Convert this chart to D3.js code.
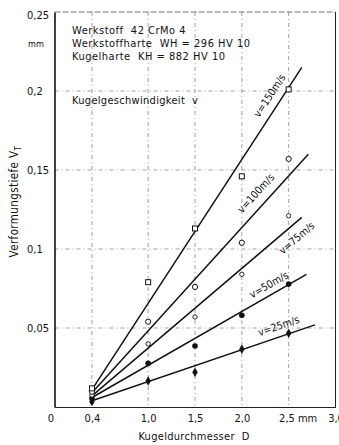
<!DOCTYPE html>
<html><head><meta charset="utf-8">
<script src="https://cdn.jsdelivr.net/npm/d3@7"></script>
<style>
body{margin:0;background:#fff;}
text{font-family:"DejaVu Sans Condensed","DejaVu Sans",sans-serif;fill:#111;white-space:pre;}
</style></head>
<body><svg id="c" width="339" height="445"></svg>
<script>
// ---- data ----
const diameters = [0.4, 1.0, 1.5, 2.0, 2.5];
const speedLabels = ["v=25m/s", "v=50m/s", "v=75m/s", "v=100m/s", "v=150m/s"];
const v25  = [0.0034, 0.0165, 0.022, 0.0365, 0.0466];
const v50  = [0.0055, 0.0277, 0.0386, 0.058, 0.0778];
const v75  = [0.0076, 0.040, 0.057, 0.084, 0.121];
const v100 = [0.0097, 0.054, 0.076, 0.104, 0.157];
const v150 = [0.0118, 0.079, 0.113, 0.146, 0.201];
const fitStart = [[0.4, 0.004], [0.4, 0.006], [0.4, 0.007], [0.4, 0.009], [0.4, 0.011]];
const fitEnd   = [[2.78, 0.052], [2.69, 0.084], [2.64, 0.120], [2.71, 0.160], [2.64, 0.215]];
const labelAt  = [2.43, 2.34, 2.50, 2.25, 2.40];
const markerKind = ["diamond", "filled", "smallOpen", "open", "square"];
const xTicks = [0, 0.4, 1.0, 1.5, 2.0, 2.5, 3.0];
const xTickLabels = ["0", "0,4", "1,0", "1,5", "2,0", "2,5 mm", "3,0"];
const yTicks = [0.05, 0.1, 0.15, 0.2, 0.25];
const yTickLabels = ["0,05", "0,1", "0,15", "0,2", "0,25"];
const gridX = [0.4, 1.0, 1.5, 2.0, 2.5];
const gridY = [0.05, 0.1, 0.15, 0.2];
const infoLines = ["Werkstoff  42 CrMo 4", "Werkstoffharte  WH = 296 HV 10", "Kugelharte  KH = 882 HV 10"];
const speedTitle = "Kugelgeschwindigkeit  v";
const yTitle = "Verformungstiefe V";
const xTitle = "Kugeldurchmesser  D";

// ---- layout ----
const series = [v25, v50, v75, v100, v150];
const svg = d3.select("#c");
const L = 54.5, R = 335.5, T = 12, B = 407;
const FF = "DejaVu Sans Condensed, DejaVu Sans, sans-serif";
const x = d3.scaleLinear().domain([0, 3]).range([L, R]);
const y = d3.scaleLinear().domain([0, 0.25]).range([B, T]);

// grid
const g = svg.append("g");
g.selectAll(".gx").data(gridX).join("line")
  .attr("x1", d => x(d)).attr("x2", d => x(d)).attr("y1", T).attr("y2", B)
  .attr("stroke", "#888").attr("stroke-width", 0.8).attr("stroke-dasharray", "4,3,1,3");
g.selectAll(".gy").data(gridY).join("line")
  .attr("y1", d => y(d)).attr("y2", d => y(d)).attr("x1", L).attr("x2", R)
  .attr("stroke", "#888").attr("stroke-width", 0.8).attr("stroke-dasharray", "4,3,1,3");

// frame
svg.append("line").attr("x1", L).attr("x2", R).attr("y1", T).attr("y2", T)
  .attr("stroke", "#555").attr("stroke-width", 0.8).attr("stroke-dasharray", "6,2");
svg.append("line").attr("x1", R).attr("x2", R).attr("y1", T).attr("y2", B)
  .attr("stroke", "#222").attr("stroke-width", 1);

// axes
const xAxis = d3.axisBottom(x).tickValues(xTicks).tickSize(0).tickPadding(7)
  .tickFormat((d, i) => xTickLabels[i]);
const ax = svg.append("g").attr("transform", `translate(0,${B})`).call(xAxis);
ax.select(".domain").attr("stroke", "#222").attr("stroke-width", 1.2);
ax.selectAll("text").attr("font-size", 11).attr("fill", "#111").attr("font-family", FF);
ax.selectAll(".tick").filter(d => d === 0).select("text").attr("dx", -4);
ax.selectAll(".tick").filter(d => d === 2.5).select("text").attr("dx", 9);

const yAxis = d3.axisLeft(y).tickValues(yTicks).tickSize(0).tickPadding(0)
  .tickFormat((d, i) => yTickLabels[i]);
const ay = svg.append("g").attr("transform", `translate(${L},0)`).call(yAxis);
ay.select(".domain").attr("stroke", "#111").attr("stroke-width", 1.6);
ay.selectAll("text").attr("font-size", 11).attr("fill", "#111").attr("text-anchor", "start")
  .attr("x", 27 - L).attr("font-family", FF);
ay.selectAll(".tick").filter(d => d === 0.25).select("text").attr("dy", "0.55em");
svg.append("text").attr("x", 28).attr("y", 47).attr("font-size", 9).text("mm");

// titles
const yt = svg.append("text").attr("transform", `translate(18,${y(0.13)}) rotate(-90)`)
  .attr("text-anchor", "middle").attr("font-size", 11.5).attr("letter-spacing", 0.4);
yt.append("tspan").text(yTitle);
yt.append("tspan").attr("font-size", 8).attr("dy", 3).text("T");
svg.append("text").attr("x", 194).attr("y", 440).attr("text-anchor", "middle")
  .attr("font-size", 11).attr("letter-spacing", 0.3).text(xTitle);

// info text
svg.selectAll(".info").data(infoLines).join("text")
  .attr("x", 72).attr("y", (d, i) => 34 + i * 13).attr("font-size", 11)
  .attr("letter-spacing", 0.5).text(d => d);
svg.append("text").attr("x", 72).attr("y", 104).attr("font-size", 11)
  .attr("letter-spacing", 0.3).text(speedTitle);

// fit lines
series.forEach((s, i) => {
  svg.append("line")
    .attr("x1", x(fitStart[i][0])).attr("y1", y(fitStart[i][1]))
    .attr("x2", x(fitEnd[i][0])).attr("y2", y(fitEnd[i][1]))
    .attr("stroke", "#111").attr("stroke-width", 1.5);
});

// markers
series.forEach((s, i) => {
  const k = markerKind[i];
  const pts = diameters.map((d, j) => [d, s[j]]);
  const m = svg.append("g");
  pts.forEach(p => {
    const cx = x(p[0]), cy = y(p[1]);
    if (k === "square") {
      m.append("rect").attr("x", cx - 2.5).attr("y", cy - 2.5).attr("width", 5).attr("height", 5)
        .attr("fill", "#fff").attr("stroke", "#111").attr("stroke-width", 1);
    } else if (k === "open") {
      m.append("circle").attr("cx", cx).attr("cy", cy).attr("r", 2.6)
        .attr("fill", "#fff").attr("stroke", "#111").attr("stroke-width", 1);
    } else if (k === "smallOpen") {
      m.append("circle").attr("cx", cx).attr("cy", cy).attr("r", 2.2)
        .attr("fill", "#fff").attr("stroke", "#111").attr("stroke-width", 0.9);
    } else if (k === "filled") {
      m.append("circle").attr("cx", cx).attr("cy", cy).attr("r", 2.8).attr("fill", "#111");
    } else {
      m.append("path").attr("d", d3.symbol(d3.symbolDiamond, 26)())
        .attr("transform", `translate(${cx},${cy})`).attr("fill", "#111");
    }
  });
});

// line labels
const labelOffset = [-11, -10, 12, -13, -12];
series.forEach((s, i) => {
  const x0 = x(fitStart[i][0]), y0 = y(fitStart[i][1]);
  const x1 = x(fitEnd[i][0]), y1 = y(fitEnd[i][1]);
  const ang = Math.atan2(y1 - y0, x1 - x0);
  const lx = labelAt[i];
  const t = (lx - fitStart[i][0]) / (fitEnd[i][0] - fitStart[i][0]);
  const px = x0 + t * (x1 - x0), py = y0 + t * (y1 - y0);
  const nx = -Math.sin(ang), ny = Math.cos(ang);
  const o = labelOffset[i];
  svg.append("text")
    .attr("transform", `translate(${px + nx * o},${py + ny * o}) rotate(${ang * 180 / Math.PI})`)
    .attr("text-anchor", "middle").attr("dominant-baseline", "central")
    .attr("font-size", 10.5).text(speedLabels[i]);
});
</script></body></html>
